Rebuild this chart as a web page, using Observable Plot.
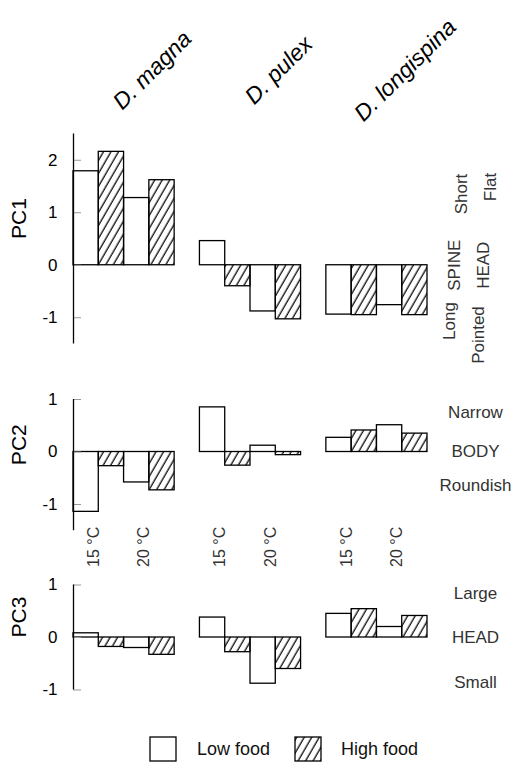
<!DOCTYPE html>
<html><head><meta charset="utf-8">
<script src="https://cdn.jsdelivr.net/npm/d3@7"></script>
<script src="https://cdn.jsdelivr.net/npm/@observablehq/plot@0.6"></script>
<style>
body{margin:0;background:#fff;}
#root{position:relative;width:512px;height:764px;overflow:hidden;font-family:"Liberation Sans",Arial,sans-serif;background:#fff;}
.panel{position:absolute;left:0;}
.lg{position:absolute;font-size:18px;color:#111;line-height:24px;}
</style></head><body>
<div id="root">
<svg width="0" height="0" style="position:absolute"><defs>
<pattern id="hatch" patternUnits="userSpaceOnUse" width="6.5" height="10" patternTransform="rotate(30)">
<line x1="3" y1="-1" x2="3" y2="11" stroke="#000" stroke-width="1.25"/></pattern></defs></svg>
</div>
<script>
// Categories
const species = ["D. magna", "D. pulex", "D. longispina"];
const temperatures = ["15 °C", "20 °C"];
const foods = ["Low food", "High food"];
// Values, order: magna 15, magna 20, pulex 15, pulex 20, longispina 15, longispina 20
const pc1Low  = [1.79, 1.28, 0.46, -0.88, -0.94, -0.76];
const pc1High = [2.16, 1.62, -0.40, -1.03, -0.95, -0.95];
const pc2Low  = [-1.14, -0.58, 0.85, 0.12, 0.27, 0.51];
const pc2High = [-0.27, -0.73, -0.26, -0.06, 0.41, 0.35];
const pc3Low  = [0.08, -0.20, 0.38, -0.88, 0.45, 0.20];
const pc3High = [-0.18, -0.33, -0.28, -0.60, 0.54, 0.41];
// Tick labels
const pc1Ticks = [-1, 0, 1, 2];
const pc2Ticks = [-1, 0, 1];
const pc3Ticks = [-1, 0, 1];
// Right-hand annotations
const pc1SpineLabels = ["Short", "SPINE", "Long"];
const pc1HeadLabels = ["Flat", "HEAD", "Pointed"];
const pc2Labels = ["Narrow", "BODY", "Roundish"];
const pc3Labels = ["Large", "HEAD", "Small"];

function rows(low, high) {
  const out = [];
  species.forEach((sp, s) => temperatures.forEach((t, ti) => foods.forEach((f, fi) => {
    out.push({species: sp, temp: t, food: f, value: (fi === 0 ? low : high)[s * 2 + ti], slot: s * 5 + ti * 2 + fi});
  })));
  return out;
}
const tempRows = [];
species.forEach((sp, s) => temperatures.forEach((t, ti) => tempRows.push({label: t, pos: s * 5 + ti * 2 + 1})));

const FONT = '"Liberation Sans", Arial, sans-serif';
const root = document.getElementById("root");
const FRAME_W = 512 - 73 - 85;

function sideLabels(labels, dx, topDy, bottomDy, rotate) {
  const base = {fontSize: 17, fill: "#333", rotate, textAnchor: "middle"};
  return [
    Plot.text([labels[0]], {...base, frameAnchor: "top-right", dx, dy: topDy}),
    Plot.text([labels[1]], {...base, y: () => 0, frameAnchor: "right", dx}),
    Plot.text([labels[2]], {...base, frameAnchor: "bottom-right", dx, dy: bottomDy})
  ];
}

function panel({name, low, high, ticks, domain, top, height, marginTop, marginBottom, extra}) {
  const data = rows(low, high);
  const p = Plot.plot({
    width: 512, height, marginLeft: 73, marginRight: 85, marginTop, marginBottom,
    style: {fontFamily: FONT, background: "transparent", overflow: "visible", color: "black"},
    x: {domain: [0, 14], axis: null},
    y: {domain, axis: null},
    marks: [
      Plot.rect(data.filter(d => d.food === "Low food"), {x1: "slot", x2: d => d.slot + 1, y1: () => 0, y2: "value", fill: "white", stroke: "black", strokeWidth: 1.3}),
      Plot.rect(data.filter(d => d.food === "High food"), {x1: "slot", x2: d => d.slot + 1, y1: () => 0, y2: "value", fill: "url(#hatch)", stroke: "black", strokeWidth: 1.3}),
      Plot.tickY(ticks, {y: d => d, insetRight: FRAME_W - 8, stroke: "#999", strokeWidth: 1}),
      Plot.ruleX([0], {stroke: "black", strokeWidth: 1.3}),
      Plot.axisY(ticks, {anchor: "left", tickSize: 0, tickPadding: 16, fontSize: 17, fill: "black", label: null, tickFormat: d => String(d)}),
      Plot.text([name], {frameAnchor: "left", dx: -54, rotate: -90, fontSize: 21, fill: "black"}),
      ...extra
    ]
  });
  p.classList.add("panel");
  p.style.top = top + "px";
  p.style.position = "absolute";
  root.appendChild(p);
}

panel({
  name: "PC1", low: pc1Low, high: pc1High, ticks: pc1Ticks, domain: [-1.5, 2.5],
  top: 0, height: 352, marginTop: 133.5, marginBottom: 8.5,
  extra: [
    Plot.text(species, {x: (d, i) => i * 5 + 2, frameAnchor: "top", dx: 22, dy: -70, rotate: -45, fontSize: 23, fontStyle: "italic", fill: "black", textAnchor: "middle"}),
    ...sideLabels(pc1SpineLabels, 27, 60, -23, -90),
    ...sideLabels(pc1HeadLabels, 56, 53, -9, -90)
  ]
});

panel({
  name: "PC2", low: pc2Low, high: pc2High, ticks: pc2Ticks, domain: [-1.5, 1],
  top: 352, height: 223, marginTop: 47, marginBottom: 44.75,
  extra: [
    Plot.text(tempRows, {x: "pos", text: "label", frameAnchor: "bottom", dy: -4, rotate: -90, textAnchor: "end", fontSize: 16, fill: "#333"}),
    ...sideLabels(pc2Labels, 48, 6, -40, 0)
  ]
});

panel({
  name: "PC3", low: pc3Low, high: pc3High, ticks: pc3Ticks, domain: [-1, 1],
  top: 575, height: 125, marginTop: 9.5, marginBottom: 10.5,
  extra: [
    ...sideLabels(pc3Labels, 48, 2, -2, 0)
  ]
});

// Legend
const lg = [
  {label: foods[0], fill: "white", box: 150, text: 197},
  {label: foods[1], fill: "url(#hatch)", box: 295, text: 341}
];
for (const item of lg) {
  const s = document.createElementNS("http://www.w3.org/2000/svg", "svg");
  s.setAttribute("width", 28); s.setAttribute("height", 26);
  s.style.position = "absolute"; s.style.left = (item.box - 1) + "px"; s.style.top = "736px";
  s.innerHTML = `<rect x="1" y="1" width="26" height="24" fill="${item.fill}" stroke="black" stroke-width="1.3"/>`;
  root.appendChild(s);
  const t = document.createElement("div");
  t.className = "lg"; t.textContent = item.label;
  t.style.left = item.text + "px"; t.style.top = "737px";
  root.appendChild(t);
}
</script>
</body></html>
